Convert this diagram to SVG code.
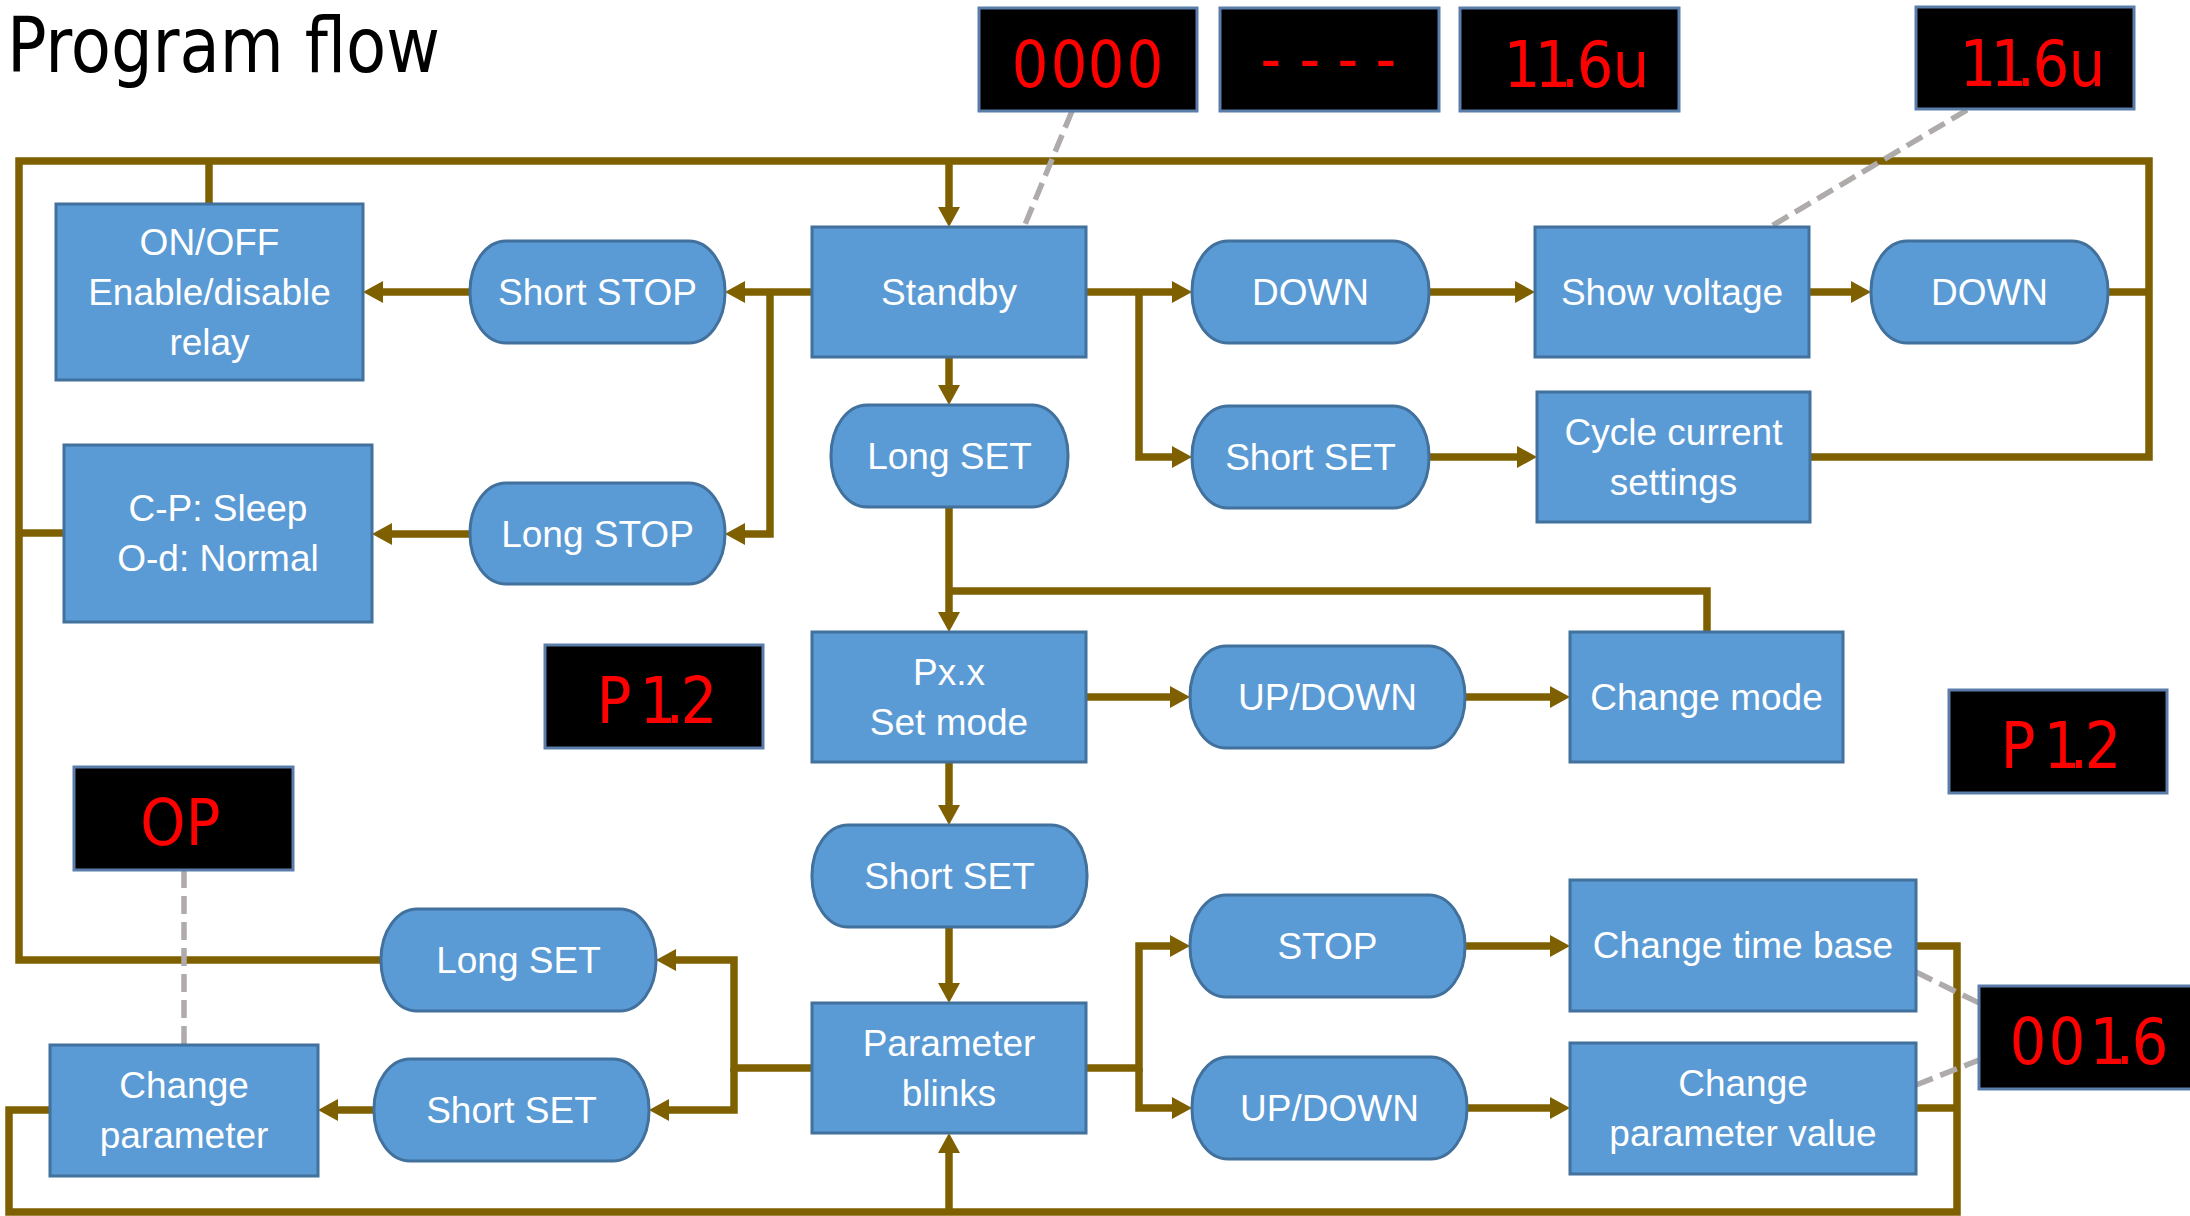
<svg xmlns="http://www.w3.org/2000/svg" width="2190" height="1216" viewBox="0 0 2190 1216">
<style>
.node rect{fill:#5B9BD5;stroke:#41719C;stroke-width:3}
.lbl{font-family:"Liberation Sans",Arial,sans-serif;font-size:37px;fill:#FFFFFF;text-anchor:middle}
.conn{fill:none;stroke:#7F6000;stroke-width:7.5}
.arr{marker-end:url(#ah)}
.dash{fill:none;stroke:#AFABAB;stroke-width:5.5;stroke-dasharray:18 8}
.lcd rect{fill:#000000;stroke:#5B7DAA;stroke-width:3}
.seg{font-family:"Liberation Sans Narrow","DejaVu Sans Condensed","Liberation Sans",sans-serif;font-size:64px;fill:#FF0000;text-anchor:middle}
.title{font-family:"Liberation Sans Narrow","DejaVu Sans Condensed","Liberation Sans",sans-serif;font-size:76px;fill:#000000}
</style>
<defs>
<marker id="ah" markerUnits="userSpaceOnUse" viewBox="0 0 20 22" markerWidth="20" markerHeight="22" refX="12" refY="11" orient="auto">
<path d="M0,0 L20,11 L0,22 z" fill="#7F6000"/>
</marker>
</defs>
<rect x="0" y="0" width="2190" height="1216" fill="#FFFFFF"/>
<text class="title" x="7" y="72" textLength="433" lengthAdjust="spacingAndGlyphs">Program flow</text>

<g id="connectors">
<path class="conn" d="M381,960 H19 V161 H2149 V457 H1810"/>
<path class="conn" d="M209,161 V204"/>
<path class="conn" d="M19,533 H64"/>
<path class="conn" d="M2108,292 H2149"/>
<path class="conn arr" d="M949,161 V219"/>
<path class="conn arr" d="M812,292 H733"/>
<path class="conn arr" d="M770,292 V534 H733"/>
<path class="conn arr" d="M470,292 H371"/>
<path class="conn arr" d="M470,534 H380"/>
<path class="conn arr" d="M949,357 V397"/>
<path class="conn arr" d="M949,507 V624"/>
<path class="conn" d="M1707,632 V591 H949"/>
<path class="conn arr" d="M1086,292 H1184"/>
<path class="conn arr" d="M1139,292 V457 H1184"/>
<path class="conn arr" d="M1429,292 H1527"/>
<path class="conn arr" d="M1809,292 H1863"/>
<path class="conn arr" d="M1429,457 H1529"/>
<path class="conn arr" d="M1086,697 H1182"/>
<path class="conn arr" d="M1465,697 H1562"/>
<path class="conn arr" d="M949,762 V817"/>
<path class="conn arr" d="M949,927 V995"/>
<path class="conn arr" d="M812,1068 H734 V960 H664"/>
<path class="conn arr" d="M734,1068 V1110 H657"/>
<path class="conn arr" d="M374,1110 H326"/>
<path class="conn" d="M50,1110 H9 V1212 H1957 V946 H1916"/>
<path class="conn" d="M1916,1108 H1957"/>
<path class="conn arr" d="M949,1212 V1141"/>
<path class="conn arr" d="M1086,1068 H1139 V946 H1182"/>
<path class="conn arr" d="M1139,1068 V1108 H1184"/>
<path class="conn arr" d="M1465,946 H1562"/>
<path class="conn arr" d="M1467,1108 H1562"/>
<path class="dash" d="M1072,111 L1024,227"/>
<path class="dash" d="M1967,110 L1770,227"/>
<path class="dash" d="M184,870 V1045"/>
<path class="dash" d="M1916,972 L1979,1003"/>
<path class="dash" d="M1916,1085 L1979,1060"/>
</g>

<g id="onoff" class="node"><rect x="56" y="204" width="307" height="176"/>
<text class="lbl" x="209.5" y="255">ON/OFF</text><text class="lbl" x="209.5" y="305">Enable/disable</text><text class="lbl" x="209.5" y="355">relay</text></g>
<g id="shortstop" class="node"><rect x="470" y="241" width="255" height="102" rx="36" ry="50"/>
<text class="lbl" x="597.5" y="305">Short STOP</text></g>
<g id="standby" class="node"><rect x="812" y="227" width="274" height="130"/>
<text class="lbl" x="949" y="305">Standby</text></g>
<g id="down1" class="node"><rect x="1192" y="241" width="237" height="102" rx="36" ry="50"/>
<text class="lbl" x="1310.5" y="305">DOWN</text></g>
<g id="showvoltage" class="node"><rect x="1535" y="227" width="274" height="130"/>
<text class="lbl" x="1672" y="305">Show voltage</text></g>
<g id="down2" class="node"><rect x="1871" y="241" width="237" height="102" rx="36" ry="50"/>
<text class="lbl" x="1989.5" y="305">DOWN</text></g>
<g id="longset1" class="node"><rect x="831" y="405" width="237" height="102" rx="36" ry="50"/>
<text class="lbl" x="949.5" y="469">Long SET</text></g>
<g id="shortset1" class="node"><rect x="1192" y="406" width="237" height="102" rx="36" ry="50"/>
<text class="lbl" x="1310.5" y="470">Short SET</text></g>
<g id="cycle" class="node"><rect x="1537" y="392" width="273" height="130"/>
<text class="lbl" x="1673.5" y="445">Cycle current</text><text class="lbl" x="1673.5" y="495">settings</text></g>
<g id="sleep" class="node"><rect x="64" y="445" width="308" height="177"/>
<text class="lbl" x="218" y="521">C-P: Sleep</text><text class="lbl" x="218" y="571">O-d: Normal</text></g>
<g id="longstop" class="node"><rect x="470" y="483" width="255" height="101" rx="36" ry="50"/>
<text class="lbl" x="597.5" y="547">Long STOP</text></g>
<g id="setmode" class="node"><rect x="812" y="632" width="274" height="130"/>
<text class="lbl" x="949" y="685">Px.x</text><text class="lbl" x="949" y="735">Set mode</text></g>
<g id="updown1" class="node"><rect x="1190" y="646" width="275" height="102" rx="36" ry="50"/>
<text class="lbl" x="1327.5" y="710">UP/DOWN</text></g>
<g id="changemode" class="node"><rect x="1570" y="632" width="273" height="130"/>
<text class="lbl" x="1706.5" y="710">Change mode</text></g>
<g id="shortset2" class="node"><rect x="812" y="825" width="275" height="102" rx="36" ry="50"/>
<text class="lbl" x="949.5" y="889">Short SET</text></g>
<g id="longset2" class="node"><rect x="381" y="909" width="275" height="102" rx="36" ry="50"/>
<text class="lbl" x="518.5" y="973">Long SET</text></g>
<g id="stop" class="node"><rect x="1190" y="895" width="275" height="102" rx="36" ry="50"/>
<text class="lbl" x="1327.5" y="959">STOP</text></g>
<g id="timebase" class="node"><rect x="1570" y="880" width="346" height="131"/>
<text class="lbl" x="1743" y="958">Change time base</text></g>
<g id="blinks" class="node"><rect x="812" y="1003" width="274" height="130"/>
<text class="lbl" x="949" y="1056">Parameter</text><text class="lbl" x="949" y="1106">blinks</text></g>
<g id="shortset3" class="node"><rect x="374" y="1059" width="275" height="102" rx="36" ry="50"/>
<text class="lbl" x="511.5" y="1123">Short SET</text></g>
<g id="updown2" class="node"><rect x="1192" y="1057" width="275" height="102" rx="36" ry="50"/>
<text class="lbl" x="1329.5" y="1121">UP/DOWN</text></g>
<g id="changeparam" class="node"><rect x="50" y="1045" width="268" height="131"/>
<text class="lbl" x="184" y="1098">Change</text><text class="lbl" x="184" y="1148">parameter</text></g>
<g id="paramvalue" class="node"><rect x="1570" y="1043" width="346" height="131"/>
<text class="lbl" x="1743" y="1096">Change</text><text class="lbl" x="1743" y="1146">parameter value</text></g>

<g id="lcd0000" class="lcd"><rect x="979" y="8" width="218" height="103"/>
<text class="seg" x="1030 1069 1106 1145" y="87">0000</text></g>
<g id="lcddash" class="lcd"><rect x="1220" y="8" width="219" height="103"/>
<text class="seg" x="1271 1310 1348 1386" y="81">----</text></g>
<g id="lcdvolt1" class="lcd"><rect x="1460" y="8" width="219" height="103"/>
<text class="seg" x="1522 1553 1570 1595 1631" y="87">11.6u</text></g>
<g id="lcdvolt2" class="lcd"><rect x="1916" y="7" width="218" height="102"/>
<text class="seg" x="1978 2009 2026 2051 2087" y="86">11.6u</text></g>
<g id="lcdp12a" class="lcd"><rect x="545" y="645" width="218" height="103"/>
<text class="seg" x="614 658 675 699" y="723">P1.2</text></g>
<g id="lcdp12b" class="lcd"><rect x="1949" y="690" width="218" height="103"/>
<text class="seg" x="2018 2062 2079 2103" y="768">P1.2</text></g>
<g id="lcdop" class="lcd"><rect x="74" y="767" width="219" height="103"/>
<text class="seg" x="163 203" y="845">OP</text></g>
<g id="lcd0016" class="lcd"><rect x="1979" y="986" width="218" height="103"/>
<text class="seg" x="2028 2067 2108 2125 2150" y="1064">001.6</text></g>
</svg>
